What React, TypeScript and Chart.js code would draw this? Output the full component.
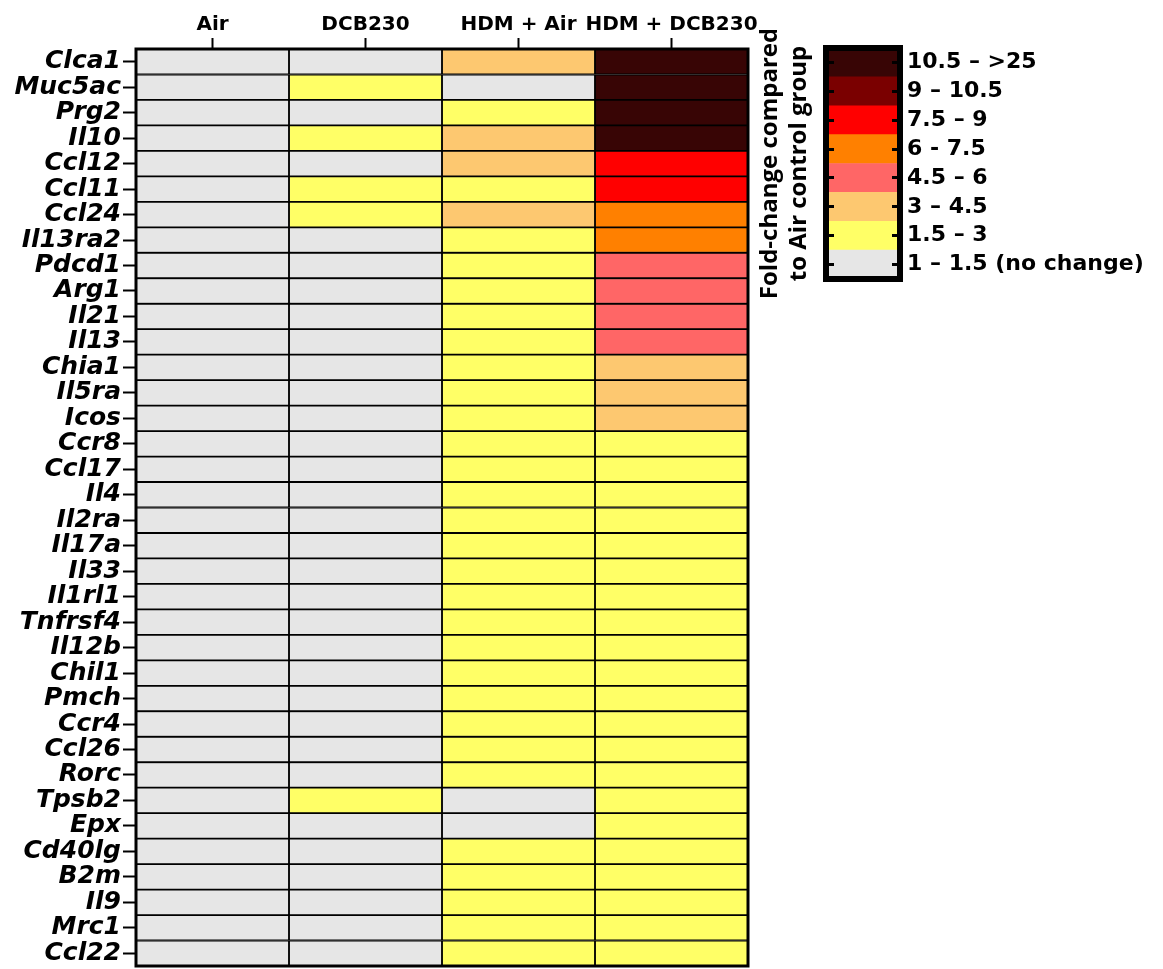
import React, { useEffect, useRef } from "react";
import { Chart, registerables } from "chart.js";

Chart.register(...registerables);

const genes = [
  "Clca1", "Muc5ac", "Prg2", "Il10", "Ccl12", "Ccl11", "Ccl24", "Il13ra2", "Pdcd1",
  "Arg1", "Il21", "Il13", "Chia1", "Il5ra", "Icos", "Ccr8", "Ccl17", "Il4", "Il2ra",
  "Il17a", "Il33", "Il1rl1", "Tnfrsf4", "Il12b", "Chil1", "Pmch", "Ccr4", "Ccl26",
  "Rorc", "Tpsb2", "Epx", "Cd40lg", "B2m", "Il9", "Mrc1", "Ccl22",
];

const columns = ["Air", "DCB230", "HDM + Air", "HDM + DCB230"];

// level index: 0 = 1–1.5, 1 = 1.5–3, 2 = 3–4.5, 3 = 4.5–6, 4 = 6–7.5, 5 = 7.5–9, 6 = 9–10.5, 7 = 10.5–>25
const airLevels = [
  0, 0, 0, 0, 0, 0, 0, 0, 0, 0, 0, 0, 0, 0, 0, 0, 0, 0,
  0, 0, 0, 0, 0, 0, 0, 0, 0, 0, 0, 0, 0, 0, 0, 0, 0, 0,
];
const dcbLevels = [
  0, 1, 0, 1, 0, 1, 1, 0, 0, 0, 0, 0, 0, 0, 0, 0, 0, 0,
  0, 0, 0, 0, 0, 0, 0, 0, 0, 0, 0, 1, 0, 0, 0, 0, 0, 0,
];
const hdmAirLevels = [
  2, 0, 1, 2, 2, 1, 2, 1, 1, 1, 1, 1, 1, 1, 1, 1, 1, 1,
  1, 1, 1, 1, 1, 1, 1, 1, 1, 1, 1, 0, 0, 1, 1, 1, 1, 1,
];
const hdmDcbLevels = [
  7, 7, 7, 7, 5, 5, 4, 4, 3, 3, 3, 3, 2, 2, 2, 1, 1, 1,
  1, 1, 1, 1, 1, 1, 1, 1, 1, 1, 1, 1, 1, 1, 1, 1, 1, 1,
];

const levelColors = [
  "#e6e6e6", "#ffff66", "#fdc870", "#ff6666", "#ff8000", "#ff0000", "#7a0000", "#380505",
];

const legendLabels = [
  "10.5 – >25", "9 – 10.5", "7.5 – 9", "6 - 7.5", "4.5 – 6", "3 – 4.5", "1.5 – 3", "1 – 1.5 (no change)",
];
const legendLevels = [7, 6, 5, 4, 3, 2, 1, 0];
const legendTitle = ["Fold-change compared", "to Air control group"];

const framePlugin = (lineWidth: number) => ({
  id: "frame" + lineWidth,
  afterDraw(chart: any) {
    const { ctx, chartArea } = chart;
    ctx.save();
    ctx.strokeStyle = "#000";
    ctx.lineWidth = lineWidth;
    ctx.strokeRect(chartArea.left, chartArea.top, chartArea.right - chartArea.left, chartArea.bottom - chartArea.top);
    ctx.restore();
  },
});

const noPad = (s: any) => {
  s.paddingTop = 0;
  s.paddingBottom = 0;
  s.paddingLeft = 0;
  s.paddingRight = 0;
};

function HeatMap() {
  const ref = useRef<HTMLCanvasElement>(null);
  useEffect(() => {
    const columnLevels = [airLevels, dcbLevels, hdmAirLevels, hdmDcbLevels];
    const chart = new Chart(ref.current!, {
      type: "bar",
      data: {
        labels: genes,
        datasets: columnLevels.map((levels, c) => ({
          label: columns[c],
          data: levels.map(() => [c, c + 1]),
          backgroundColor: levels.map((l) => levelColors[l]),
          borderColor: "#000",
          borderWidth: 1.25,
          borderSkipped: false,
          grouped: false,
          barPercentage: 1,
          categoryPercentage: 1,
        })) as any,
      },
      options: {
        indexAxis: "y",
        animation: false,
        responsive: true,
        maintainAspectRatio: false,
        layout: { padding: { left: 0, top: 0, right: 12, bottom: 3 } },
        plugins: { legend: { display: false }, tooltip: { enabled: false } },
        scales: {
          x: {
            type: "linear",
            position: "top",
            min: 0,
            max: 4,
            afterBuildTicks: (s: any) => {
              s.ticks = columns.map((_, i) => ({ value: i + 0.5 }));
            },
            afterFit: (s: any) => {
              s.height = 49;
              noPad(s);
            },
            ticks: {
              autoSkip: false,
              maxRotation: 0,
              color: "#000",
              padding: 1,
              font: { family: "DejaVu Sans", size: 20, weight: "bold" },
              callback: (_v: any, i: number) => columns[i],
            },
            grid: { drawOnChartArea: false, tickLength: 11, tickWidth: 2, color: "#000" },
            border: { display: false },
          },
          y: {
            type: "category",
            position: "left",
            offset: true,
            afterFit: (s: any) => {
              s.width = 136;
              noPad(s);
            },
            ticks: {
              autoSkip: false,
              color: "#000",
              padding: 2,
              font: { family: "DejaVu Sans", size: 25, weight: "bold", style: "italic" },
            },
            grid: { drawOnChartArea: false, offset: false, tickLength: 13, tickWidth: 2, color: "#000" },
            border: { display: false },
          },
        },
      } as any,
      plugins: [framePlugin(3)],
    });
    return () => chart.destroy();
  }, []);
  return (
    <div style={{ position: "absolute", left: 0, top: 0, width: 760, height: 969 }}>
      <canvas ref={ref} />
    </div>
  );
}

function ColorKey() {
  const ref = useRef<HTMLCanvasElement>(null);
  useEffect(() => {
    const chart = new Chart(ref.current!, {
      type: "bar",
      data: {
        labels: legendLabels,
        datasets: [
          {
            data: legendLevels.map(() => [0, 1]),
            backgroundColor: legendLevels.map((l) => levelColors[l]),
            borderWidth: 0,
            barPercentage: 1,
            categoryPercentage: 1,
            yAxisID: "y",
          },
        ] as any,
      },
      options: {
        indexAxis: "y",
        animation: false,
        responsive: true,
        maintainAspectRatio: false,
        layout: { padding: { left: 0, top: 18, right: 0, bottom: 41 } },
        plugins: { legend: { display: false }, tooltip: { enabled: false } },
        scales: {
          x: { type: "linear", min: 0, max: 1, display: false },
          y: {
            type: "category",
            position: "left",
            offset: true,
            afterFit: (s: any) => {
              s.width = 76;
              noPad(s);
            },
            ticks: { display: false },
            grid: { drawOnChartArea: false, offset: false, tickLength: -8, tickWidth: 3, color: "#000", z: 1 },
            border: { display: false },
            title: {
              display: true,
              text: legendTitle,
              color: "#000",
              padding: { top: 6, bottom: 0 },
              font: { family: "Open Sans", size: 24, weight: "bold", lineHeight: 1.2 },
            },
          },
          y2: {
            type: "category",
            position: "right",
            labels: legendLabels,
            offset: true,
            afterFit: (s: any) => {
              s.width = 263;
              noPad(s);
            },
            ticks: {
              color: "#000",
              padding: 15,
              autoSkip: false,
              font: { family: "DejaVu Sans", size: 22, weight: "bold" },
            },
            grid: { drawOnChartArea: false, offset: false, tickLength: -8, tickWidth: 3, color: "#000", z: 1 },
            border: { display: false },
          },
        },
      } as any,
      plugins: [framePlugin(6)],
    });
    return () => chart.destroy();
  }, []);
  return (
    <div style={{ position: "absolute", left: 750, top: 30, width: 413, height: 290 }}>
      <canvas ref={ref} />
    </div>
  );
}

export default function App() {
  return (
    <div style={{ position: "absolute", left: 0, top: 0, width: 1163, height: 969, background: "#fff" }}>
      <HeatMap />
      <ColorKey />
    </div>
  );
}
